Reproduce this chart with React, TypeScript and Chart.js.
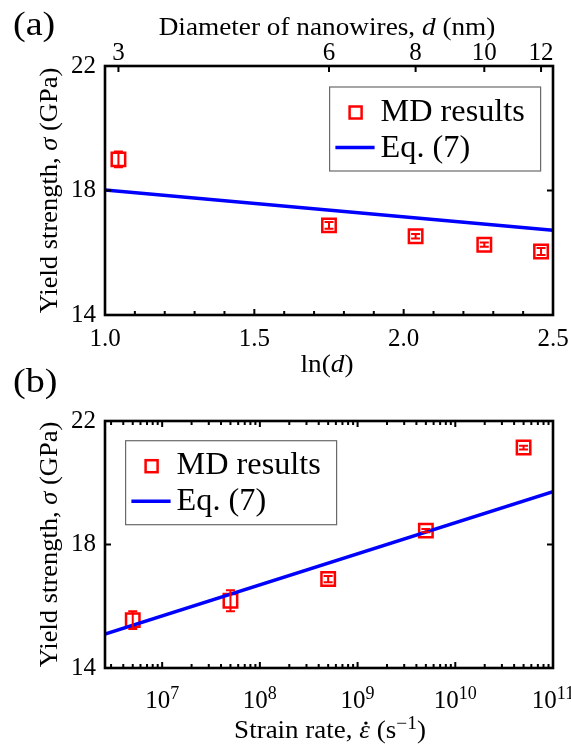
import React, { useEffect, useRef } from "react";
import { Chart, registerables } from "chart.js";

Chart.register(...registerables);

const SERIF = '"Liberation Serif", "Times New Roman", Times, serif';
const RED = "#ff0000";
const BLUE = "#0000ff";

// ---------- panel (a): yield strength vs ln(d) ----------
const lnD = [1.045, 1.75, 2.04, 2.27, 2.46];
const diameterTickLabels = ["3", "6", "8", "10", "12"];
const sigmaVsD = [19.0, 16.88, 16.53, 16.26, 16.04];
const sigmaVsDErr = [0.25, 0.11, 0.07, 0.07, 0.11];
const eqLnD = [1.0, 2.5];
const eqSigmaVsD = [18.02, 16.72];
const lnDTicks = [1.0, 1.5, 2.0, 2.5];
const lnDMinorTicks = [1.1, 1.2, 1.3, 1.4, 1.6, 1.7, 1.8, 1.9, 2.1, 2.2, 2.3, 2.4];
const sigmaTicks = [14, 18, 22];

// ---------- panel (b): yield strength vs strain rate ----------
const strainRate = [5e6, 5e7, 5e8, 5e9, 5e10];
const sigmaVsRate = [15.55, 16.18, 16.88, 18.45, 21.14];
const sigmaVsRateErr = [0.29, 0.34, 0.1, 0.05, 0.06];
const eqRate = [2.6e6, 1e11];
const eqSigmaVsRate = [15.1, 19.71];
const rateDecades = [7, 8, 9, 10, 11];
const rateMinorMantissas = [2, 3, 4, 5, 6, 7, 8, 9];
const rateMin = 2.6e6;
const rateMax = 1e11;

type Seg = { t: string; it?: boolean; sup?: boolean; dot?: boolean };

function drawRich(
  ctx: CanvasRenderingContext2D,
  segs: Seg[],
  x: number,
  y: number,
  size: number,
  sx: number,
  align: "center" | "left",
  rot = 0
) {
  ctx.save();
  ctx.translate(x, y);
  if (rot) ctx.rotate(rot);
  ctx.scale(sx, 1);
  const fontOf = (s: Seg) =>
    `${s.it ? "italic " : ""}${s.sup ? Math.round(size * 0.7) : size}px ${SERIF}`;
  let total = 0;
  for (const s of segs) {
    ctx.font = fontOf(s);
    total += ctx.measureText(s.t).width;
  }
  let cx = align === "center" ? -total / 2 : 0;
  ctx.fillStyle = "#000";
  ctx.textAlign = "left";
  ctx.textBaseline = "alphabetic";
  for (const s of segs) {
    ctx.font = fontOf(s);
    const w = ctx.measureText(s.t).width;
    ctx.fillText(s.t, cx, s.sup ? -size * 0.38 : 0);
    if (s.dot) {
      ctx.beginPath();
      ctx.arc(cx + w * 0.62, -size * 0.6, size * 0.065, 0, Math.PI * 2);
      ctx.fill();
    }
    cx += w;
  }
  ctx.restore();
}

function vTicks(ctx: CanvasRenderingContext2D, xs: number[], a: any, len: number, top: boolean, bottom: boolean) {
  ctx.beginPath();
  for (const px of xs) {
    if (bottom) {
      ctx.moveTo(px, a.bottom);
      ctx.lineTo(px, a.bottom - len);
    }
    if (top) {
      ctx.moveTo(px, a.top);
      ctx.lineTo(px, a.top + len);
    }
  }
  ctx.stroke();
}

function hTicks(ctx: CanvasRenderingContext2D, ys: number[], a: any, len: number) {
  ctx.beginPath();
  for (const py of ys) {
    ctx.moveTo(a.left, py);
    ctx.lineTo(a.left + len, py);
    ctx.moveTo(a.right, py);
    ctx.lineTo(a.right - len, py);
  }
  ctx.stroke();
}

function drawFrame(ctx: CanvasRenderingContext2D, a: any) {
  ctx.save();
  ctx.strokeStyle = "#000";
  ctx.lineWidth = 2.6;
  ctx.strokeRect(a.left, a.top, a.right - a.left, a.bottom - a.top);
  ctx.restore();
}

function drawErrorBars(ctx: CanvasRenderingContext2D, xs: any, ys: any, xv: number[], yv: number[], ev: number[]) {
  ctx.save();
  ctx.strokeStyle = RED;
  ctx.lineWidth = 2;
  const cap = 4.5;
  for (let i = 0; i < xv.length; i++) {
    const px = xs.getPixelForValue(xv[i]);
    const y1 = ys.getPixelForValue(yv[i] - ev[i]);
    const y2 = ys.getPixelForValue(yv[i] + ev[i]);
    ctx.beginPath();
    ctx.moveTo(px, y1);
    ctx.lineTo(px, y2);
    ctx.moveTo(px - cap, y1);
    ctx.lineTo(px + cap, y1);
    ctx.moveTo(px - cap, y2);
    ctx.lineTo(px + cap, y2);
    ctx.stroke();
  }
  ctx.restore();
}

function drawLegend(ctx: CanvasRenderingContext2D, bx: number, by: number) {
  const bw = 211;
  const bh = 84;
  ctx.save();
  ctx.fillStyle = "#fff";
  ctx.fillRect(bx, by, bw, bh);
  ctx.strokeStyle = "#6a6a6a";
  ctx.lineWidth = 1.2;
  ctx.strokeRect(bx, by, bw, bh);
  ctx.strokeStyle = RED;
  ctx.lineWidth = 2.5;
  ctx.strokeRect(bx + 26 - 6, by + 25.5 - 6, 12, 12);
  ctx.strokeStyle = BLUE;
  ctx.lineWidth = 3.5;
  ctx.beginPath();
  ctx.moveTo(bx + 5.8, by + 60.5);
  ctx.lineTo(bx + 45, by + 60.5);
  ctx.stroke();
  ctx.restore();
  drawRich(ctx, [{ t: "MD results" }], bx + 51, by + 33.7, 31, 1.04, "left");
  drawRich(ctx, [{ t: "Eq. (7)" }], bx + 51, by + 69.7, 31, 1.04, "left");
}

const tickFont = { family: SERIF, size: 25, lineHeight: 1 };
const hideGrid = { display: false, drawTicks: false };
const noBorder = { display: false };
const zeroPad = (s: any) => {
  s.paddingLeft = 0;
  s.paddingRight = 0;
  s.paddingTop = 0;
  s.paddingBottom = 0;
};

const yTitle: Seg[] = [{ t: "Yield strength, " }, { t: "σ", it: true }, { t: " (GPa)" }];

const yScale = {
  type: "linear",
  position: "left",
  min: 14,
  max: 22,
  afterBuildTicks: (s: any) => {
    s.ticks = sigmaTicks.map((v) => ({ value: v }));
  },
  ticks: { font: tickFont, color: "#000", padding: 9, callback: (v: any) => String(v) },
  grid: hideGrid,
  border: noBorder,
  afterFit: (s: any) => {
    s.width = 105;
    zeroPad(s);
  },
};

function makeConfigA(): any {
  const decor = {
    id: "decorA",
    afterDatasetsDraw(chart: any) {
      const { ctx, scales } = chart;
      drawErrorBars(ctx, scales.x, scales.y, lnD, sigmaVsD, sigmaVsDErr);
    },
    afterDraw(chart: any) {
      const { ctx, chartArea: a, scales } = chart;
      ctx.save();
      ctx.strokeStyle = "#000";
      ctx.lineWidth = 2;
      vTicks(ctx, lnDTicks.map((v) => scales.x.getPixelForValue(v)), a, 6, false, true);
      vTicks(ctx, lnDMinorTicks.map((v) => scales.x.getPixelForValue(v)), a, 4, false, true);
      vTicks(ctx, lnD.map((v) => scales.x2.getPixelForValue(v)), a, 6, true, false);
      hTicks(ctx, sigmaTicks.map((v) => scales.y.getPixelForValue(v)), a, 6);
      ctx.restore();
      drawFrame(ctx, a);
      drawLegend(ctx, a.right - 223.4, a.top + 21);
      const cx = (a.left + a.right) / 2;
      drawRich(ctx, [{ t: "(a)" }], 13, 35, 34, 1.12, "left");
      drawRich(
        ctx,
        [{ t: "Diameter of nanowires, " }, { t: "d", it: true }, { t: " (nm)" }],
        cx - 2,
        35,
        25,
        1.09,
        "center"
      );
      drawRich(ctx, [{ t: "ln(" }, { t: "d", it: true }, { t: ")" }], cx - 2, 372, 25, 1.09, "center");
      drawRich(ctx, yTitle, 56.5, (a.top + a.bottom) / 2, 25, 1.06, "center", -Math.PI / 2);
    },
  };
  return {
    type: "scatter",
    data: {
      datasets: [
        {
          label: "MD results",
          data: lnD.map((x, i) => ({ x, y: sigmaVsD[i] })),
          xAxisID: "x",
          yAxisID: "y",
          pointStyle: "rect",
          pointRadius: 9.5,
          pointBorderWidth: 2.5,
          pointBorderColor: RED,
          pointBackgroundColor: "rgba(0,0,0,0)",
          showLine: false,
          order: 2,
        },
        {
          label: "Eq. (7)",
          data: eqLnD.map((x, i) => ({ x, y: eqSigmaVsD[i] })),
          xAxisID: "x",
          yAxisID: "y",
          showLine: true,
          borderColor: BLUE,
          borderWidth: 3.5,
          pointRadius: 0,
          order: 1,
        },
      ],
    },
    options: {
      animation: false,
      responsive: false,
      devicePixelRatio: 1,
      layout: { padding: { left: 0, right: 18, top: 0, bottom: 751 - 315 - 40 } },
      plugins: { legend: { display: false }, tooltip: { enabled: false } },
      scales: {
        x: {
          type: "linear",
          position: "bottom",
          min: 1,
          max: 2.5,
          afterBuildTicks: (s: any) => {
            s.ticks = lnDTicks.map((v) => ({ value: v }));
          },
          ticks: {
            font: tickFont,
            color: "#000",
            padding: 11.5,
            autoSkip: false,
            maxRotation: 0,
            minRotation: 0,
            callback: (v: any) => Number(v).toFixed(1),
          },
          grid: hideGrid,
          border: noBorder,
          afterFit: (s: any) => {
            s.height = 40;
            zeroPad(s);
          },
        },
        x2: {
          type: "linear",
          position: "top",
          min: 1,
          max: 2.5,
          afterBuildTicks: (s: any) => {
            s.ticks = lnD.map((v) => ({ value: v }));
          },
          ticks: {
            font: tickFont,
            color: "#000",
            padding: 0,
            autoSkip: false,
            maxRotation: 0,
            minRotation: 0,
            callback: (_v: any, i: number) => diameterTickLabels[i],
          },
          grid: hideGrid,
          border: noBorder,
          afterFit: (s: any) => {
            s.height = 66;
            zeroPad(s);
          },
        },
        y: yScale,
      },
    },
    plugins: [decor],
  };
}

function makeConfigB(): any {
  const minors: number[] = [];
  for (let e = 6; e <= 10; e++) {
    for (const m of rateMinorMantissas) {
      const v = m * Math.pow(10, e);
      if (v > rateMin && v < rateMax) minors.push(v);
    }
  }
  const decor = {
    id: "decorB",
    afterDatasetsDraw(chart: any) {
      const { ctx, scales } = chart;
      drawErrorBars(ctx, scales.x, scales.y, strainRate, sigmaVsRate, sigmaVsRateErr);
    },
    afterDraw(chart: any) {
      const { ctx, chartArea: a, scales } = chart;
      ctx.save();
      ctx.strokeStyle = "#000";
      ctx.lineWidth = 2;
      const majors = scales.x.ticks.map((t: any) => scales.x.getPixelForValue(t.value));
      vTicks(ctx, majors, a, 6, true, true);
      vTicks(ctx, minors.map((v) => scales.x.getPixelForValue(v)), a, 4, true, true);
      hTicks(ctx, sigmaTicks.map((v) => scales.y.getPixelForValue(v)), a, 6);
      ctx.restore();
      drawFrame(ctx, a);
      // decade tick labels of the log axis, written as 10 with a raised exponent
      scales.x.ticks.forEach((t: any) => {
        const e = Math.round(Math.log10(t.value));
        drawRich(
          ctx,
          [{ t: "10" }, { t: String(e), sup: true }],
          scales.x.getPixelForValue(t.value),
          708,
          25,
          1.0,
          "center"
        );
      });
      drawLegend(ctx, a.left + 20.6, a.top + 19.7);
      const cx = (a.left + a.right) / 2;
      drawRich(ctx, [{ t: "(b)" }], 13, 392, 34, 1.12, "left");
      drawRich(
        ctx,
        [
          { t: "Strain rate, " },
          { t: "ε", it: true, dot: true },
          { t: " (s" },
          { t: "−1", sup: true },
          { t: ")" },
        ],
        cx + 1,
        738,
        25,
        1.08,
        "center"
      );
      drawRich(ctx, yTitle, 56.5, (a.top + a.bottom) / 2, 25, 1.06, "center", -Math.PI / 2);
    },
  };
  return {
    type: "scatter",
    data: {
      datasets: [
        {
          label: "MD results",
          data: strainRate.map((x, i) => ({ x, y: sigmaVsRate[i] })),
          pointStyle: "rect",
          pointRadius: 9.5,
          pointBorderWidth: 2.5,
          pointBorderColor: RED,
          pointBackgroundColor: "rgba(0,0,0,0)",
          showLine: false,
          order: 2,
        },
        {
          label: "Eq. (7)",
          data: eqRate.map((x, i) => ({ x, y: eqSigmaVsRate[i] })),
          showLine: true,
          borderColor: BLUE,
          borderWidth: 3.5,
          pointRadius: 0,
          order: 1,
        },
      ],
    },
    options: {
      animation: false,
      responsive: false,
      devicePixelRatio: 1,
      layout: { padding: { left: 0, right: 18, top: 421, bottom: 0 } },
      plugins: { legend: { display: false }, tooltip: { enabled: false } },
      scales: {
        x: {
          type: "logarithmic",
          position: "bottom",
          min: rateMin,
          max: rateMax,
          afterBuildTicks: (s: any) => {
            s.ticks = rateDecades.map((e) => ({ value: Math.pow(10, e) }));
          },
          ticks: { display: false },
          grid: hideGrid,
          border: noBorder,
          afterFit: (s: any) => {
            s.height = 83;
            zeroPad(s);
          },
        },
        y: yScale,
      },
    },
    plugins: [decor],
  };
}

export default function App() {
  const refA = useRef<HTMLCanvasElement | null>(null);
  const refB = useRef<HTMLCanvasElement | null>(null);

  useEffect(() => {
    Chart.defaults.font.family = SERIF;
    const a = new Chart(refA.current as HTMLCanvasElement, makeConfigA());
    const b = new Chart(refB.current as HTMLCanvasElement, makeConfigB());
    return () => {
      a.destroy();
      b.destroy();
    };
  }, []);

  const canvasStyle: React.CSSProperties = {
    position: "absolute",
    left: 0,
    top: 0,
    width: 571,
    height: 751,
  };

  return (
    <div
      style={{
        position: "fixed",
        left: 0,
        top: 0,
        width: 571,
        height: 751,
        background: "#fff",
        overflow: "hidden",
      }}
    >
      <canvas ref={refA} width={571} height={751} style={canvasStyle} />
      <canvas ref={refB} width={571} height={751} style={canvasStyle} />
    </div>
  );
}
